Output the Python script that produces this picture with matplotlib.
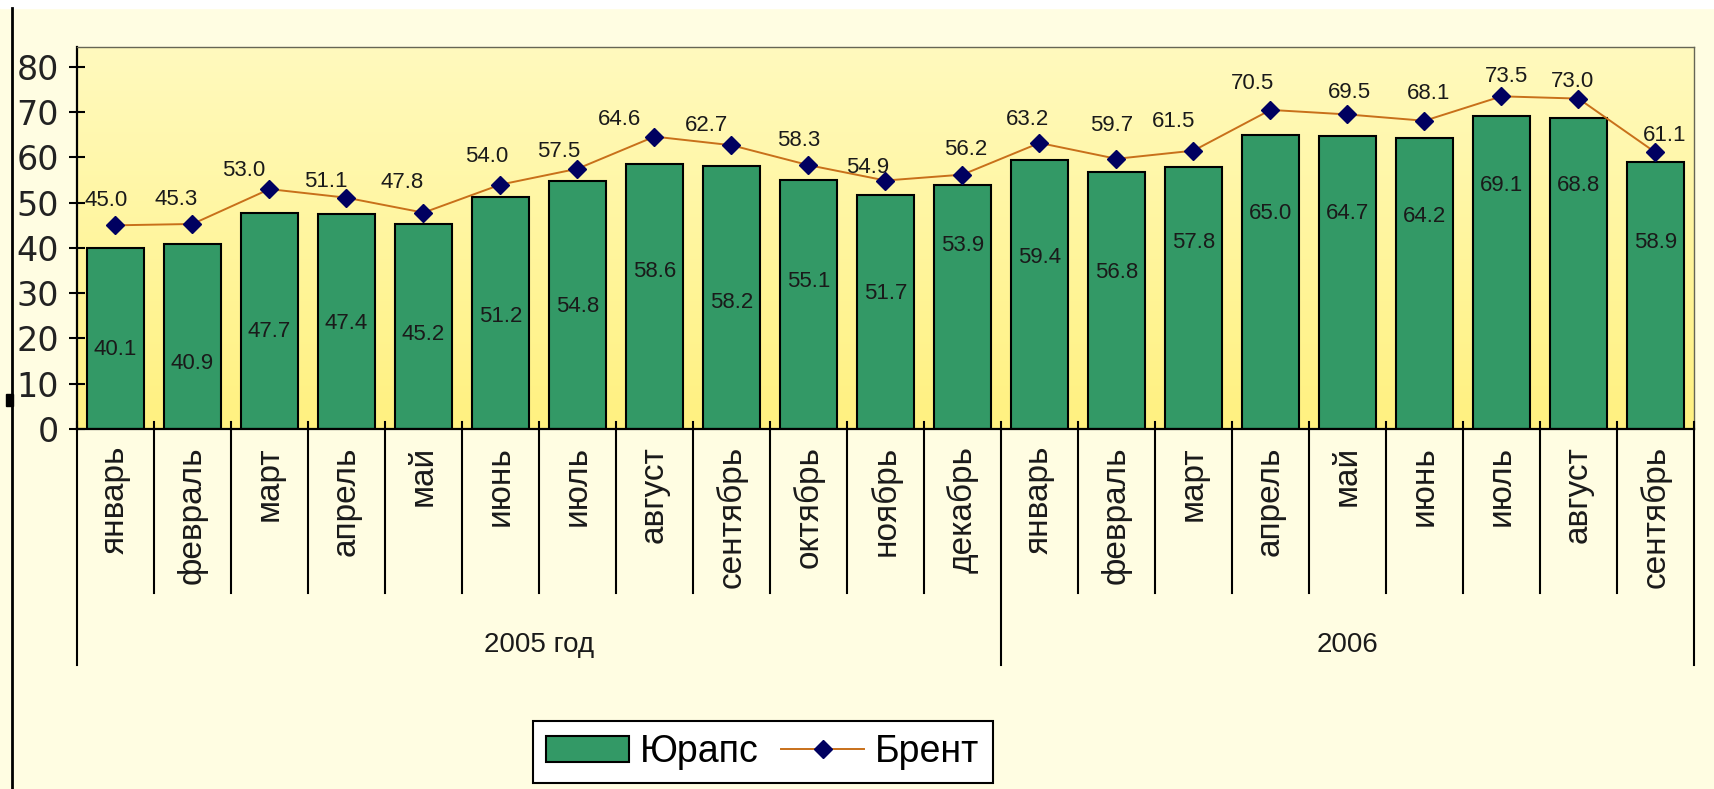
import numpy as np
import matplotlib
matplotlib.use("Agg")
import matplotlib.pyplot as plt
from matplotlib.patches import Rectangle
from matplotlib.lines import Line2D

plt.rcParams['font.family'] = ['Liberation Sans', 'DejaVu Sans']

months = ["январь", "февраль", "март", "апрель", "май", "июнь", "июль",
          "август", "сентябрь", "октябрь", "ноябрь", "декабрь",
          "январь", "февраль", "март", "апрель", "май", "июнь", "июль",
          "август", "сентябрь"]
years = ["2005 год", "2006"]
year_first = [0, 12]
year_last = [11, 20]

urals = [40.1, 40.9, 47.7, 47.4, 45.2, 51.2, 54.8, 58.6, 58.2, 55.1, 51.7, 53.9,
         59.4, 56.8, 57.8, 65.0, 64.7, 64.2, 69.1, 68.8, 58.9]
brent = [45.0, 45.3, 53.0, 51.1, 47.8, 54.0, 57.5, 64.6, 62.7, 58.3, 54.9, 56.2,
         63.2, 59.7, 61.5, 70.5, 69.5, 68.1, 73.5, 73.0, 61.1]

# where the value labels sit in the picture (hand-dragged in the original)
urals_label_y = [17.5, 14.5, 21.5, 23.4, 20.8, 24.8, 27.0, 34.7, 28.0, 32.5, 30.0, 40.6,
                 37.8, 34.5, 41.1, 47.7, 47.7, 46.9, 53.9, 53.9, 41.3]
brent_label_dx = [-9, -16, -26, -21, -21, -14, -19, -35, -25, -10, -18, 3,
                  -12, -5, -20, -18, 2, 4, 5, -6, 9]
brent_label_dy = [25, 24, 19, 16, 30, 28, 17, 17, 20, 25, 13, 25,
                  23, 33, 29, 26, 22, 27, 20, 17, 17]

W, H = 1715, 789
fig = plt.figure(figsize=(W / 100, H / 100), dpi=100)
fig.patch.set_facecolor('#FFFDE2')
# white strip on top and frame line at left of the original screenshot
fig.add_artist(Rectangle((0, 1 - 8 / H), 1, 8 / H, transform=fig.transFigure,
                         color='white', zorder=0))
fig.add_artist(Line2D([12 / W, 12 / W], [0, 1 - 8 / H], transform=fig.transFigure,
                      color='black', lw=2))
fig.add_artist(Rectangle((6 / W, 1 - 406 / H), 7 / W, 12 / H, transform=fig.transFigure,
                         color='black'))

ax = fig.add_axes([77 / W, 1 - 429 / H, (1694 - 77) / W, (429 - 47) / H])

# yellow gradient of the plot area
top = np.array([255, 250, 190]) / 255
bot = np.array([255, 241, 128]) / 255
t = np.linspace(0, 1, 256)[:, None]
grad = (top * (1 - t) + bot * t)[:, None, :]
ax.imshow(grad, extent=[0, 1, 0, 1], transform=ax.transAxes, aspect='auto', zorder=0)

x = np.arange(len(months))
bars = ax.bar(x, urals, width=0.75, color='#339966', edgecolor='black', linewidth=1.5,
              zorder=2, label='Юрапс')
line, = ax.plot(x, brent, color='#C8701A', lw=1.4, marker='D', markersize=9,
                markerfacecolor='#000060', markeredgecolor='#000060', zorder=3,
                label='Брент')

for i, v in enumerate(urals):
    ax.text(i, urals_label_y[i], f"{v:.1f}", ha='center', va='center',
            fontsize=16, color='#1a1a1a', zorder=4)
for i, v in enumerate(brent):
    ax.annotate(f"{v:.1f}", (i, v), xytext=(brent_label_dx[i], brent_label_dy[i]),
                textcoords='offset pixels', ha='center', va='center',
                fontsize=16, color='#1a1a1a', zorder=4)

ax.set_xlim(-0.5, len(months) - 0.5)
ax.set_ylim(0, 84.4)
ax.set_yticks(np.arange(0, 81, 10))
ax.tick_params(axis='y', direction='inout', length=12, width=1.5, labelsize=24,
               pad=7, labelcolor='#222222')
for lab in ax.get_yticklabels():
    lab.set_family('DejaVu Sans')
ax.set_xticks([])

for s in ['left', 'bottom']:
    ax.spines[s].set_linewidth(1.6)
    ax.spines[s].set_color('black')
for s in ['top', 'right']:
    ax.spines[s].set_linewidth(1.0)
    ax.spines[s].set_color('#666655')

# category axis drawn by hand: month ticks, year groups
px = 1 / (429 - 47)
tr = ax.get_xaxis_transform()
for b in np.arange(-0.5, len(months), 1.0):
    long = b in (-0.5, 11.5, len(months) - 0.5)
    y0 = -236 * px if long else -164 * px
    ax.plot([b, b], [7 * px, y0], transform=tr, color='black', lw=1.5, clip_on=False, zorder=5)
for i, m in enumerate(months):
    ax.text(i, -17 * px, m, transform=tr, rotation=90, ha='center', va='top',
            fontsize=24, color='#1a1a1a')
for name, a, b in zip(years, year_first, year_last):
    ax.text((a + b) / 2, -216 * px, name, transform=tr, ha='center', va='center',
            fontsize=20, color='#1a1a1a')

leg = ax.legend([bars, line], ['Юрапс', 'Брент'], loc='center',
                bbox_to_anchor=(763 / W, 1 - 752 / H),
                bbox_transform=fig.transFigure, ncol=2, fontsize=27,
                frameon=True, fancybox=False, edgecolor='black', framealpha=1,
                handlelength=2.2, handleheight=0.7, columnspacing=0.6,
                handletextpad=0.3, borderpad=0.35)
leg.get_frame().set_linewidth(1.5)

fig.savefig('out.png', dpi=100, facecolor=fig.get_facecolor())
